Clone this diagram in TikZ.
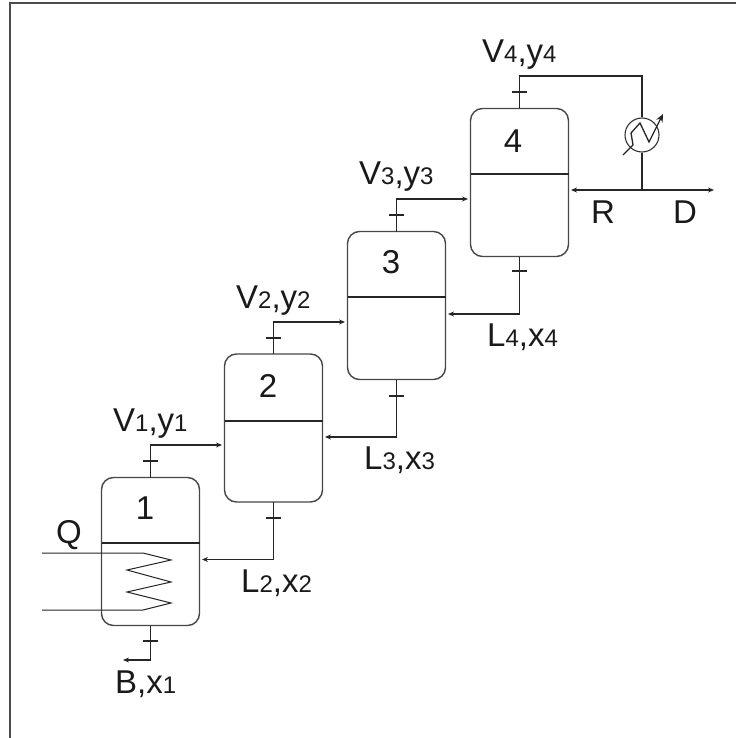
\documentclass[tikz,border=0pt]{standalone}
\usepackage{fontspec}
\setmainfont{Liberation Sans}
\usetikzlibrary{arrows.meta}
\newcommand{\smalldig}[1]{{\fontsize{24}{24}\selectfont #1}}
\tikzset{
  x=1pt,y=-1pt,
  stage/.style={draw=black!72,line width=1.4pt,rounded corners=12pt,minimum width=98pt,minimum height=148pt,inner sep=0pt,outer sep=0pt,fill=white},
  pipe/.style={draw=black!85,line width=1.1pt},
  feed/.style={pipe,-{Stealth[length=6pt,width=5pt]}},
  feedgap/.style={feed,shorten >=2.5pt},
  lbl/.style={anchor=base west,inner sep=0pt,font=\fontsize{33}{33}\selectfont,text=black!90},
  num/.style={inner sep=0pt,font=\fontsize{33}{33}\selectfont,text=black!90},
  cond/.style={circle,draw=black!80,line width=1.1pt,minimum size=34pt,inner sep=0pt,fill=white},
  frameline/.style={draw=black!70,line width=2.4pt}
}
\begin{document}
\begin{tikzpicture}
\useasboundingbox (0,0) rectangle (736,738);
\coordinate (fo) at (10,3);
\coordinate (fr) at (736,3);
\coordinate (fb) at (10,738);
\draw[frameline] (fr) -- (fo) -- (fb);

% stages
\node[stage] (b1) at (150.5,551.5) {};
\node[stage] (b2) at (273.5,428) {};
\node[stage] (b3) at (396.5,305.5) {};
\node[stage] (b4) at (519.5,182.5) {};

% dividers
\coordinate (d1l) at (b1.west |- 0,543); \coordinate (d1r) at (b1.east |- 0,543);
\coordinate (d2l) at (b2.west |- 0,421); \coordinate (d2r) at (b2.east |- 0,421);
\coordinate (d3l) at (b3.west |- 0,297); \coordinate (d3r) at (b3.east |- 0,297);
\coordinate (d4l) at (b4.west |- 0,174); \coordinate (d4r) at (b4.east |- 0,174);
\draw[pipe] (d1l) -- (d1r);
\draw[pipe] (d2l) -- (d2r);
\draw[pipe] (d3l) -- (d3r);
\draw[pipe] (d4l) -- (d4r);

% stage numbers
\node[num] (n1) at (145,508) {1};
\node[num] (n2) at (268,386) {2};
\node[num] (n3) at (391,262) {3};
\node[num] (n4) at (513,141) {4};

% vapour lines
\draw[feedgap] (b1.north) |- (b2.west |- 0,445);
\draw[feedgap] (b2.north) |- (b3.west |- 0,322);
\draw[feedgap] (b3.north) |- (b4.west |- 0,199);

% liquid lines
\draw[feedgap] (b2.south) |- (b1.east |- 0,559.5);
\draw[feedgap] (b3.south) |- (b2.east |- 0,437);
\draw[feedgap] (b4.south) |- (b3.east |- 0,314);
\coordinate (bout) at (123,660);
\draw[feed] (b1.south) |- (bout);

% ticks
\foreach \cx/\cy in {150.5/461,150.5/641,273.5/518,273.5/338,396.5/215,396.5/396,519.5/92,519.5/271}{
  \draw[pipe] (\cx-7.5,\cy) -- (\cx+7.5,\cy);
}

% reboiler coil
\coordinate (qa) at (42,553);
\coordinate (qb) at (42,610);
\draw[pipe,line width=1pt] (qa) -- (143,553) -- (171,560) -- (127,570) -- (171,582) -- (127,592) -- (171,603) -- (143,610) -- (qb);

% condenser
\node[cond] (c) at (642,135) {};
\coordinate (junc) at (642,190);
\coordinate (top) at (642,76);
\draw[pipe] (b4.north) |- (top) -- (c.north);
\draw[pipe] (c.south) -- (junc);
\coordinate (rr) at (b4.east |- junc);
\coordinate (dd) at (714,190);
\draw[feedgap] (junc) -- (rr);
\draw[feed] (junc) -- (dd);
\coordinate (ca) at (623,155);
\coordinate (cb) at (663,114);
\draw[pipe,line width=1.3pt,-{Stealth[length=8pt,width=7pt]}] (ca) -- (633,145) -- (631,133) -- (640,123) -- (649,142) -- (cb);

% labels
\node[lbl] (lv1) at (113,431) {V\smalldig{1},y\smalldig{1}};
\node[lbl] (lv2) at (236,308) {V\smalldig{2},y\smalldig{2}};
\node[lbl] (lv3) at (359,185) {V\smalldig{3},y\smalldig{3}};
\node[lbl] (lv4) at (482,62.5) {V\smalldig{4},y\smalldig{4}};
\node[lbl] (ll2) at (241,592) {L\smalldig{2},x\smalldig{2}};
\node[lbl] (ll3) at (364,469) {L\smalldig{3},x\smalldig{3}};
\node[lbl] (ll4) at (487,346) {L\smalldig{4},x\smalldig{4}};
\node[lbl] (lb) at (115,693) {B,x\smalldig{1}};
\node[lbl] (lq) at (56,543) {Q};
\node[lbl] (lr) at (591,223) {R};
\node[lbl] (ld) at (673,223) {D};
\end{tikzpicture}
\end{document}
